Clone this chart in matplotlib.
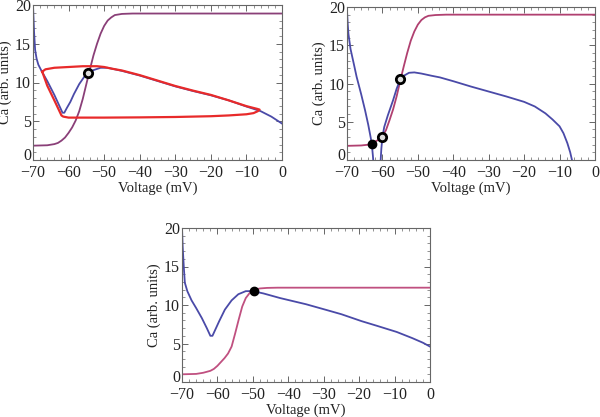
import numpy as np
import matplotlib
matplotlib.use("Agg")
import matplotlib.pyplot as plt
from matplotlib.ticker import MultipleLocator
from matplotlib.transforms import ScaledTranslation

plt.rcParams['font.family'] = ['Liberation Serif', 'DejaVu Serif']
plt.rcParams['font.size'] = 10

# ---------------- Panel 1 data ----------------
p1_blue_v = [-70.0, -69.7, -69.4, -69.0, -68.5, -67.5, -66, -64, -62.5, -61.7, -61.2, -60.5, -59.5,
             -58.5, -57, -55.5, -54.4, -53, -51, -49, -45, -40, -35, -30, -25, -20, -15, -10, -6, -3, 0]
p1_blue_ca = [20.0, 16.5, 14.2, 13.1, 12.3, 11.4, 10.2, 8.4, 6.9, 6.1, 6.1, 6.7, 7.5,
              8.5, 9.8, 10.8, 11.2, 11.6, 11.9, 11.9, 11.5, 10.9, 10.2, 9.5, 8.9, 8.35, 7.7, 6.9, 6.3, 5.6, 4.7]

p1_purple_v = [-70, -66, -64, -63, -62, -61, -60, -59, -58, -57, -56, -55, -54, -53, -52, -51,
               -50, -49, -48, -47, -45, -42, 0]
p1_purple_ca = [1.85, 1.9, 2.05, 2.2, 2.5, 2.9, 3.5, 4.2, 5.1, 6.3, 7.9, 9.8, 11.7, 13.5, 15.0, 16.3,
                17.3, 18.0, 18.4, 18.7, 18.85, 18.9, 18.9]

p1_red_v = [-67.4, -66.5, -64, -60, -56, -52, -50, -48, -45, -40, -35, -30, -25, -20, -15, -10, -7,
            -6.3, -6.8, -8, -10, -15, -20, -30, -40, -50, -60, -61.5, -62, -64, -66, -67.4]
p1_red_ca = [11.4, 11.7, 11.9, 12.0, 12.1, 12.1, 12.0, 11.8, 11.55, 10.95, 10.25, 9.55, 8.95, 8.4,
             7.7, 6.95, 6.6, 6.5, 6.3, 6.05, 5.9, 5.75, 5.65, 5.55, 5.5, 5.47, 5.47, 5.6, 5.75, 7.7,
             9.6, 11.4]

p1_open_v = [-54.5]
p1_open_ca = [11.25]

# ---------------- Panel 2 data ----------------
p2_purple_v = [-70, -66, -64, -63, -62, -61, -60, -59, -58, -57, -56, -55, -54, -53, -52, -51,
               -50, -49, -48, -47, -45, -42, 0]
p2_purple_ca = [1.85, 1.9, 2.0, 2.1, 2.4, 2.7, 3.1, 3.9, 5.2, 6.6, 8.3, 10.3, 12.2, 14.0, 15.6, 16.8,
                17.7, 18.3, 18.65, 18.85, 18.95, 19.0, 19.0]

p2_blueL_v = [-70, -69.8, -69.6, -69, -68, -67.3, -66, -64.9, -64, -63.3, -62.9, -62.7, -62.6]
p2_blueL_ca = [19.5, 17.8, 16.5, 14.5, 12.4, 10.9, 8.6, 6.5, 4.6, 2.9, 1.6, 0.6, 0.0]

p2_blueR_v = [-60.5, -60.3, -60.0, -59.5, -58.5, -57.9, -57, -56, -55, -54, -52.5, -51, -49, -46,
              -43.8, -40, -35, -30, -25, -20, -17, -14, -12, -10, -8.9, -7.8, -7, -6.5]
p2_blueR_ca = [0.0, 1.5, 3.0, 4.3, 5.8, 6.6, 7.8, 9.3, 10.5, 11.0, 11.4, 11.45, 11.3, 11.0,
               10.8, 10.3, 9.6, 8.95, 8.3, 7.6, 7.0, 6.1, 5.3, 4.4, 3.5, 2.2, 1.0, 0.0]

p2_filled_v = [-62.9]
p2_filled_ca = [2.1]
p2_open_v = [-60.0, -54.9]
p2_open_ca = [3.0, 10.6]

# ---------------- Panel 3 data ----------------
p3_purple_v = [-70, -66, -64, -62, -61, -60, -59, -58, -57, -56, -55, -54, -53, -52, -51, -50,
               -49, -48, -46, -43, 0]
p3_purple_ca = [1.0, 1.05, 1.2, 1.45, 1.7, 2.1, 2.6, 3.1, 3.7, 4.6, 6.3, 8.1, 9.8, 10.9, 11.5,
                11.8, 12.05, 12.15, 12.22, 12.25, 12.25]

p3_blue_v = [-70, -69.8, -69.5, -69.2, -68.5, -67.3, -66, -64.4, -63, -62, -61.4, -60.8, -59.5,
             -57.9, -56, -54.1, -52, -50, -47, -42.3, -35, -29.2, -25, -19.3, -15, -9.4, -5, -2, 0]
p3_blue_ca = [20, 17.5, 15.0, 12.9, 11.8, 10.6, 9.6, 8.3, 7.0, 6.0, 6.0, 6.6, 7.9,
              9.4, 10.6, 11.4, 11.8, 11.8, 11.5, 10.9, 10.1, 9.35, 8.8, 7.9, 7.3, 6.5, 5.7, 5.1, 4.6]

p3_filled_v = [-49.8]
p3_filled_ca = [11.8]

xticks = [-70, -60, -50, -40, -30, -20, -10, 0]
yticks = [0, 5, 10, 15, 20]

BLUE = '#4a4aa8'
RED = '#e82a2a'
FRAME = '#666666'

W, H = 600, 417
fig = plt.figure(figsize=(W / 100, H / 100), dpi=100)


def make_ax(left, top, right, bottom):
    return fig.add_axes([left / W, 1 - bottom / H, (right - left) / W, (bottom - top) / H])


def style(ax):
    ax.set_xlim(-70, 0)
    ax.set_ylim(0, 20)
    ax.set_xticks(xticks)
    ax.set_yticks(yticks)
    ax.xaxis.set_minor_locator(MultipleLocator(2))
    ax.yaxis.set_minor_locator(MultipleLocator(1))
    ax.tick_params(which='both', direction='in', top=True, right=True, color=FRAME,
                   labelsize=11.5, labelcolor='#222222')
    ax.tick_params(axis='x', which='major', pad=3.5)
    ax.tick_params(axis='y', which='major', pad=1.5)
    ax.tick_params(which='major', length=4, width=0.7)
    ax.tick_params(which='minor', length=2, width=0.5)
    for s in ax.spines.values():
        s.set_color(FRAME)
        s.set_linewidth(0.8)
    ax.set_xlabel('Voltage (mV)', fontsize=10.5, labelpad=0.5, color='#222222')
    ax.set_ylabel('Ca (arb. units)', fontsize=10.5, labelpad=2, color='#222222')
    # raise the "0" y tick label slightly so it does not collide with "−70"
    fig.canvas.draw()
    lab0 = ax.get_yticklabels()[0]
    lab0.set_transform(lab0.get_transform() + ScaledTranslation(0, 6 / 100, fig.dpi_scale_trans))


def filled(ax, v, ca):
    ax.plot(v, ca, 'o', ms=6, mfc='black', mec='black', zorder=5, clip_on=False)


def opened(ax, v, ca):
    ax.plot(v, ca, 'o', ms=6, mfc='#dddddd', mec='black', mew=2, zorder=5)


# Panel 1
ax1 = make_ax(33, 5, 282, 160)
ax1.plot(p1_purple_v, p1_purple_ca, color='#8a3f78', lw=1.3)
ax1.plot(p1_blue_v, p1_blue_ca, color=BLUE, lw=1.3)
ax1.plot(p1_red_v, p1_red_ca, color=RED, lw=1.6)
opened(ax1, p1_open_v, p1_open_ca)
style(ax1)

# Panel 2
ax2 = make_ax(347, 7, 595, 160)
ax2.plot(p2_purple_v, p2_purple_ca, color='#b04070', lw=1.3)
ax2.plot(p2_blueL_v, p2_blueL_ca, color=BLUE, lw=1.3)
ax2.plot(p2_blueR_v, p2_blueR_ca, color=BLUE, lw=1.3)
filled(ax2, p2_filled_v, p2_filled_ca)
opened(ax2, p2_open_v, p2_open_ca)
style(ax2)

# Panel 3
ax3 = make_ax(182, 228, 430, 382)
ax3.plot(p3_purple_v, p3_purple_ca, color='#c05080', lw=1.3)
ax3.plot(p3_blue_v, p3_blue_ca, color=BLUE, lw=1.3)
filled(ax3, p3_filled_v, p3_filled_ca)
style(ax3)

fig.savefig('out.png', dpi=100)
